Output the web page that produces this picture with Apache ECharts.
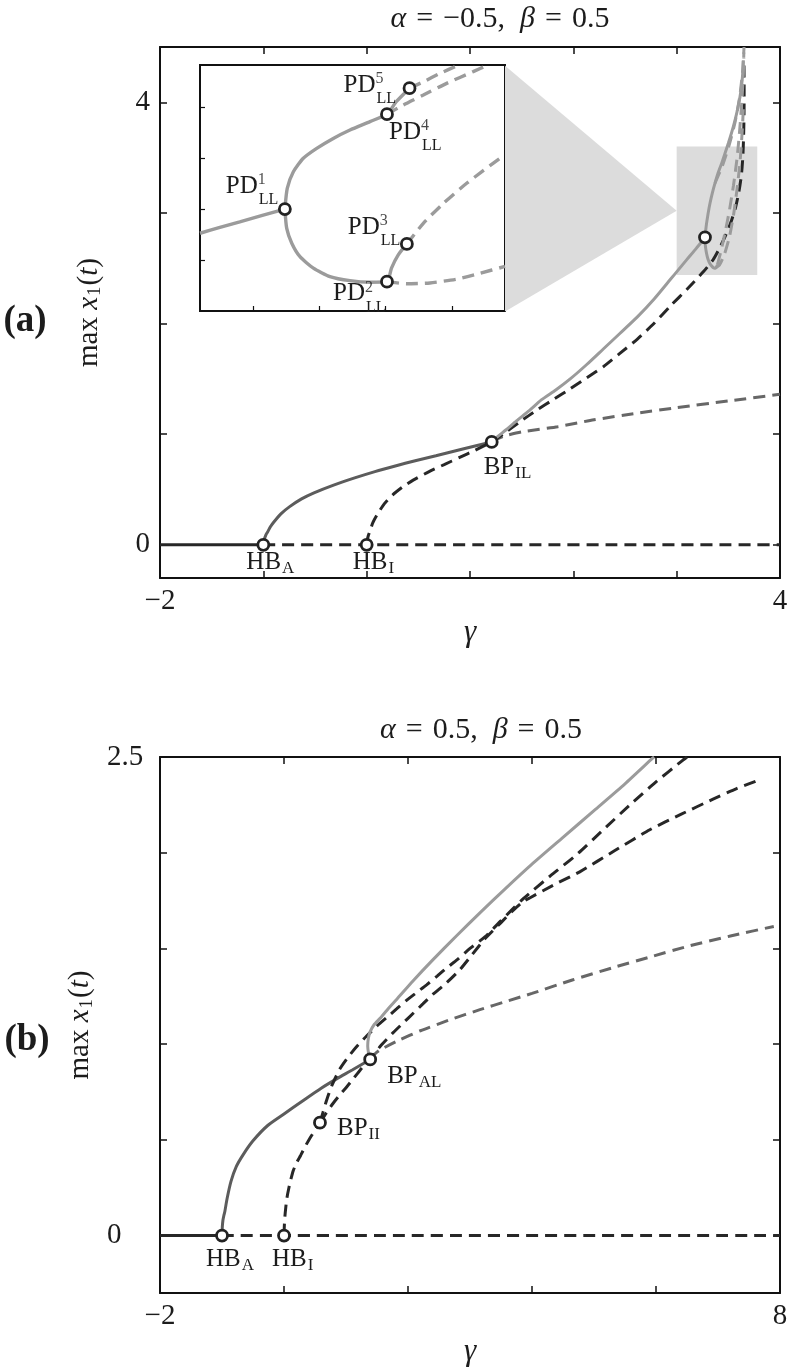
<!DOCTYPE html>
<html>
<head>
<meta charset="utf-8">
<script src="https://cdn.jsdelivr.net/npm/echarts@6/dist/echarts.min.js"></script>
<style>
html, body { margin: 0; padding: 0; background: #fff; }
#container { width: 796px; height: 1372px; }
</style>
</head>
<body>
<div id="container"></div>
<script>
// ---------- panel (a): alpha = -0.5, beta = 0.5 ----------
var aXTicks = [-2, -1, 0, 1, 2, 3, 4];
var aXLabels = [-2, 4];
var aYTicks = [0, 1, 2, 3, 4];
var aYLabels = [0, 4];

var aEqStable = [[-2, 0], [-1, 0]];
var aEqUnstable = [[-1, 0], [4, 0]];
var aAStable = [[-1, 0], [-0.99, 0.05], [-0.975, 0.09], [-0.96, 0.114], [-0.93, 0.165], [-0.9, 0.204], [-0.83, 0.28], [-0.745, 0.345], [-0.63, 0.415], [-0.51, 0.47], [-0.32, 0.54], [-0.116, 0.605], [0.08, 0.662], [0.277, 0.713], [0.47, 0.76], [0.67, 0.805], [0.94, 0.868], [1.21, 0.93]];
var aAUnstable = [[1.21, 0.93], [1.27, 0.96], [1.33, 0.983], [1.5, 1.02], [1.85, 1.068], [2.2, 1.13], [2.62, 1.19], [3.0, 1.24], [3.5, 1.3], [4.0, 1.36]];
var aIUnstable = [[0, 0], [0.005, 0.04], [0.015, 0.08], [0.03, 0.12], [0.06, 0.2], [0.1, 0.27], [0.17, 0.37], [0.25, 0.45], [0.35, 0.525], [0.45, 0.585], [0.6, 0.66], [0.75, 0.725], [0.9, 0.79], [1.05, 0.855], [1.21, 0.93], [1.32, 1.0], [1.48, 1.11], [1.65, 1.22], [1.81, 1.315], [1.97, 1.41], [2.13, 1.51], [2.29, 1.61], [2.45, 1.73], [2.62, 1.86], [2.78, 2.0], [2.94, 2.16], [3.1, 2.31], [3.26, 2.47], [3.355, 2.58], [3.42, 2.69], [3.48, 2.81], [3.53, 2.93], [3.57, 3.05], [3.6, 3.18], [3.625, 3.33], [3.64, 3.5], [3.648, 3.7], [3.652, 3.9], [3.653, 4.1], [3.652, 4.3], [3.65, 4.4]];
var aLStable = [[1.21, 0.93], [1.27, 0.98], [1.35, 1.04], [1.45, 1.12], [1.57, 1.21], [1.69, 1.31], [1.83, 1.4], [1.97, 1.5], [2.13, 1.63], [2.29, 1.77], [2.45, 1.91], [2.62, 2.06], [2.78, 2.22], [2.94, 2.4], [3.02, 2.49], [3.1, 2.58], [3.19, 2.68], [3.274, 2.78], [3.282, 2.85], [3.29, 2.91], [3.305, 3.0], [3.323, 3.09], [3.345, 3.18], [3.371, 3.27], [3.4, 3.36], [3.436, 3.45], [3.468, 3.54], [3.5, 3.63], [3.533, 3.73], [3.565, 3.84], [3.59, 3.94], [3.613, 4.05], [3.628, 4.15], [3.639, 4.26], [3.645, 4.38]];
var aLStableLow = [[3.274, 2.78], [3.276, 2.72], [3.284, 2.66], [3.295, 2.61], [3.306, 2.575], [3.32, 2.545], [3.339, 2.52], [3.355, 2.505], [3.371, 2.5], [3.385, 2.51], [3.394, 2.53]];
var aLUnstable1 = [[3.394, 2.53], [3.43, 2.66], [3.47, 2.83], [3.51, 3.02], [3.55, 3.25], [3.585, 3.5], [3.61, 3.75], [3.63, 4.0], [3.645, 4.25], [3.65, 4.45]];
var aLUnstable2 = [[3.371, 2.5], [3.415, 2.53], [3.46, 2.62], [3.51, 2.78], [3.55, 2.98], [3.585, 3.22], [3.615, 3.48], [3.635, 3.75], [3.648, 4.0]];
var aLUnstable3 = [[3.371, 3.27], [3.44, 3.42], [3.51, 3.62], [3.565, 3.82], [3.61, 4.05], [3.64, 4.3], [3.652, 4.5]];

var aMarks = [[-1, 0], [0, 0], [1.21, 0.93], [3.274, 2.78]];
var aMarkNames = ['HB', 'HB', 'BP', ''];
var aMarkSubs = ['A', 'I', 'IL', ''];

// zoom window and the wedge joining it to the inset
var aZoomBox = [[3.0, 2.44], [3.78, 3.6]];
var aZoomWedge = [[1.339, 4.33], [3.0, 3.02], [1.339, 2.11]];

// ---------- inset of panel (a) ----------
var inXTicks = [3.25, 3.30, 3.35, 3.40];
var inYTicks = [2.58, 2.78, 2.98, 3.18];
var inLIn = [[3.21, 2.685], [3.225, 2.708], [3.24, 2.73], [3.257, 2.755], [3.274, 2.78]];
var inLUpper = [[3.274, 2.78], [3.2758, 2.861], [3.2804, 2.926], [3.2879, 2.979], [3.298, 3.018], [3.3105, 3.057], [3.3231, 3.09], [3.3382, 3.123], [3.351, 3.152], [3.358, 3.201], [3.368, 3.254]];
var inLLower = [[3.274, 2.78], [3.2754, 2.704], [3.2792, 2.646], [3.2854, 2.593], [3.2955, 2.548], [3.308, 2.515], [3.3231, 2.499], [3.3382, 2.493], [3.351, 2.495], [3.3544, 2.548], [3.3595, 2.6], [3.366, 2.643]];
var inDash5 = [[3.368, 3.254], [3.3784, 3.279], [3.391, 3.312], [3.4035, 3.341], [3.406, 3.345]];
var inDash4 = [[3.351, 3.152], [3.3633, 3.188], [3.3784, 3.227], [3.396, 3.273], [3.416, 3.319], [3.427, 3.345]];
var inDash3 = [[3.366, 2.643], [3.3784, 2.724], [3.3935, 2.802], [3.4111, 2.881], [3.4362, 2.979], [3.44, 2.99]];
var inDash2 = [[3.351, 2.495], [3.3658, 2.487], [3.3834, 2.49], [3.4035, 2.505], [3.4211, 2.528], [3.44, 2.555]];
var inMarks = [[3.274, 2.78], [3.351, 2.495], [3.366, 2.643], [3.351, 3.152], [3.368, 3.254]];
var inMarkSups = ['1', '2', '3', '4', '5'];

// ---------- panel (b): alpha = 0.5, beta = 0.5 ----------
var bXTicks = [-2, 0, 2, 4, 6, 8];
var bXLabels = [-2, 8];
var bYTicks = [0, 0.5, 1, 1.5, 2, 2.5];
var bYLabels = [0, 2.5];

var bEqStable = [[-2, 0], [-1, 0]];
var bEqUnstable = [[-1, 0], [8, 0]];
var bAStable = [[-1, 0], [-0.995, 0.045], [-0.985, 0.08], [-0.97, 0.105], [-0.954, 0.126], [-0.92, 0.19], [-0.855, 0.283], [-0.77, 0.36], [-0.658, 0.423], [-0.5, 0.495], [-0.263, 0.575], [0.0, 0.635], [0.329, 0.71], [0.6, 0.77], [0.855, 0.82], [1.1, 0.865], [1.39, 0.92]];
var bAUnstable = [[1.39, 0.92], [1.47, 0.95], [1.55, 0.97], [1.85, 1.02], [2.2, 1.07], [2.7, 1.13], [3.16, 1.18], [3.6, 1.225], [4.0, 1.265], [4.65, 1.335], [5.31, 1.4], [5.9, 1.455], [6.5, 1.51], [7.2, 1.565], [7.9, 1.615]];
var bIUnstable = [[0, 0], [0.004, 0.04], [0.01, 0.08], [0.02, 0.12], [0.04, 0.18], [0.06, 0.22], [0.1, 0.28], [0.15, 0.34], [0.21, 0.385], [0.27, 0.42], [0.35, 0.47], [0.42, 0.51], [0.5, 0.55], [0.58, 0.59]];
var bPUnstable = [[0.58, 0.59], [0.63, 0.645], [0.69, 0.71], [0.78, 0.79], [0.9, 0.87], [1.04, 0.935], [1.18, 0.99], [1.34, 1.045], [1.5, 1.095], [1.66, 1.14], [1.82, 1.185], [1.98, 1.23], [2.14, 1.27], [2.3, 1.31], [2.47, 1.355], [2.63, 1.4], [2.79, 1.44], [3.0, 1.5], [3.24, 1.56], [3.5, 1.645], [3.86, 1.76], [4.3, 1.88], [4.72, 1.99], [5.15, 2.12], [5.58, 2.25], [6.0, 2.37], [6.42, 2.48], [6.5, 2.5]];
var bQUnstable = [[0.58, 0.59], [0.68, 0.64], [0.79, 0.69], [0.9, 0.735], [1.02, 0.78], [1.12, 0.82], [1.23, 0.865], [1.39, 0.925], [1.57, 0.995], [1.76, 1.06], [1.92, 1.11], [2.08, 1.16], [2.24, 1.21], [2.4, 1.26], [2.62, 1.32], [2.84, 1.39], [3.04, 1.47], [3.24, 1.55], [3.5, 1.635], [3.7, 1.7], [3.86, 1.745], [3.97, 1.765], [4.37, 1.835], [4.77, 1.9], [5.33, 2.01], [5.9, 2.12], [6.4, 2.2], [6.92, 2.28], [7.3, 2.335], [7.71, 2.385]];
var bLStable = [[1.39, 0.92], [1.365, 0.95], [1.35, 0.99], [1.36, 1.03], [1.39, 1.065], [1.45, 1.1], [1.55, 1.135], [1.68, 1.185], [1.82, 1.235], [2.08, 1.33], [2.4, 1.44], [2.78, 1.565], [3.16, 1.686], [3.58, 1.815], [4.0, 1.94], [4.5, 2.08], [5.0, 2.22], [5.5, 2.36], [5.95, 2.495], [5.97, 2.5]];

var bMarks = [[-1, 0], [0, 0], [0.58, 0.59], [1.39, 0.92]];
var bMarkNames = ['HB', 'HB', 'BP', 'BP'];
var bMarkSubs = ['A', 'I', 'II', 'AL'];

// label placement (pixels from the marker)
var aLabelOffsets = [[-17, 18], [-14, 18], [-8, 26], [0, 0]];
var bLabelOffsets = [[-16, 24], [-12, 24], [17, 6], [17, 17]];
var inLabelOffsets = [[-59, -23], [-54, 12], [-59, -17], [2, 18], [-66, -3]];

var FONT = '"Liberation Serif", "DejaVu Serif", serif';
var INK = '#1c1c1c';
var DARK = '#272727', MID = '#5c5c5c', LIGHT = '#9b9b9b', SHADE = '#dcdcdc';
var DASH = [12, 7];

var RICH = {
    m: { fontFamily: FONT, fontSize: 25, color: INK, lineHeight: 30, verticalAlign: 'middle' },
    s: { fontFamily: FONT, fontSize: 17, color: INK, padding: [12, 0, 0, 1], verticalAlign: 'middle' },
    sl: { fontFamily: FONT, fontSize: 16, color: INK, padding: [28, 0, 0, 1], verticalAlign: 'middle' },
    p: { fontFamily: FONT, fontSize: 16, color: INK, verticalAlign: 'middle' }
};

function fmtNum(v) {
    return v < 0 ? '\u2212' + (-v) : String(v);
}

function frame(gridIndex, xr, yr, xTicks, yTicks, xLabels, yLabels, xNameGap, yLabelAlign, yLabelMargin) {
    var tickStyle = { color: '#111', width: 1.5 };
    var lineStyle = { color: '#111', width: 2 };
    var xs = [{
        type: 'value', gridIndex: gridIndex, position: 'bottom', min: xr[0], max: xr[1],
        axisLine: { show: true, onZero: false, lineStyle: lineStyle },
        axisTick: { show: true, inside: true, length: 7, customValues: xTicks, lineStyle: tickStyle },
        axisLabel: { show: true, customValues: xLabels, margin: 9, formatter: fmtNum, color: INK, fontSize: 29, fontFamily: FONT },
        splitLine: { show: false },
        name: '\u03b3', nameLocation: 'middle', nameGap: xNameGap,
        nameTextStyle: { fontFamily: FONT, fontSize: 31, fontStyle: 'italic', color: INK }
    }, {
        type: 'value', gridIndex: gridIndex, position: 'top', min: xr[0], max: xr[1],
        axisLine: { show: true, onZero: false, lineStyle: lineStyle },
        axisTick: { show: true, inside: true, length: 7, customValues: xTicks, lineStyle: tickStyle },
        axisLabel: { show: false }, splitLine: { show: false }
    }];
    var ys = [{
        type: 'value', gridIndex: gridIndex, position: 'left', min: yr[0], max: yr[1],
        axisLine: { show: true, onZero: false, lineStyle: lineStyle },
        axisTick: { show: true, inside: true, length: 7, customValues: yTicks, lineStyle: tickStyle },
        axisLabel: { show: true, customValues: yLabels, margin: yLabelMargin, align: yLabelAlign, formatter: fmtNum, color: INK, fontSize: 29, fontFamily: FONT },
        splitLine: { show: false },
        name: '{r|max }{i|x}{s|1}{r|(}{i|t}{r|)}', nameLocation: 'middle', nameGap: 54, nameRotate: 90,
        nameTextStyle: {
            fontFamily: FONT, fontSize: 29, color: INK,
            rich: {
                r: { fontFamily: FONT, fontSize: 29, color: INK, lineHeight: 34, verticalAlign: 'middle' },
                i: { fontFamily: FONT, fontSize: 29, fontStyle: 'italic', color: INK, lineHeight: 34, verticalAlign: 'middle' },
                s: { fontFamily: FONT, fontSize: 19, color: INK, padding: [13, 1, 0, 1], verticalAlign: 'middle' }
            }
        }
    }, {
        type: 'value', gridIndex: gridIndex, position: 'right', min: yr[0], max: yr[1],
        axisLine: { show: true, onZero: false, lineStyle: lineStyle },
        axisTick: { show: true, inside: true, length: 7, customValues: yTicks, lineStyle: tickStyle },
        axisLabel: { show: false }, splitLine: { show: false }
    }];
    return { x: xs, y: ys };
}

function curve(data, xi, yi, color, dashed, width) {
    return {
        type: 'line', xAxisIndex: xi, yAxisIndex: yi, data: data,
        symbol: 'none', showSymbol: false, smooth: 0.2, silent: true, z: 3,
        lineStyle: { color: color, width: width || 3, type: dashed ? DASH : 'solid', cap: 'butt' }
    };
}

function markers(xi, yi, pts, names, subs, offsets, subStyle) {
    return {
        type: 'scatter', xAxisIndex: xi, yAxisIndex: yi, z: 10, silent: true,
        symbol: 'circle', symbolSize: 11,
        itemStyle: { color: '#fff', borderColor: '#222', borderWidth: 2.8, opacity: 1 },
        label: { show: true, position: 'inside', align: 'left', verticalAlign: 'middle', rich: RICH },
        data: pts.map(function (p, i) {
            return {
                value: p,
                label: {
                    show: !!names[i],
                    formatter: names[i] ? '{m|' + names[i] + '}{' + subStyle + '|' + subs[i] + '}' : '',
                    offset: offsets[i]
                }
            };
        })
    };
}

var fa = frame(0, [-2, 4], [-0.3, 4.5], aXTicks, aYTicks, aXLabels, aYLabels, 32, 'right', 10);
var fb = frame(2, [-2, 8], [-0.3, 2.5], bXTicks, bYTicks, bXLabels, bYLabels, 43, 'left', 53);

var inAxisX = {
    type: 'value', gridIndex: 1, min: 3.21, max: 3.44,
    axisLine: { show: false },
    axisTick: { show: true, inside: true, length: 5, customValues: inXTicks, lineStyle: { color: '#111', width: 1.2 } },
    axisLabel: { show: false }, splitLine: { show: false }
};
var inAxisY = {
    type: 'value', gridIndex: 1, min: 2.38, max: 3.345,
    axisLine: { show: false },
    axisTick: { show: true, inside: true, length: 5, customValues: inYTicks, lineStyle: { color: '#111', width: 1.2 } },
    axisLabel: { show: false }, splitLine: { show: false }
};

// axis index map: x 0,1 = (a); 2 = inset; 3,4 = (b)
var xAxes = [fa.x[0], fa.x[1], inAxisX, fb.x[0], fb.x[1]];
var yAxes = [fa.y[0], fa.y[1], inAxisY, fb.y[0], fb.y[1]];

var series = [
    {
        type: 'custom', xAxisIndex: 0, yAxisIndex: 0, z: 1, silent: true,
        data: [[0, 0]],
        renderItem: function (params, api) {
            var w = aZoomWedge.map(function (p) { return api.coord(p); });
            var b0 = api.coord(aZoomBox[0]);
            var b1 = api.coord(aZoomBox[1]);
            return {
                type: 'group',
                children: [
                    { type: 'polygon', shape: { points: w }, style: { fill: SHADE } },
                    { type: 'rect', shape: { x: b0[0], y: b1[1], width: b1[0] - b0[0], height: b0[1] - b1[1] }, style: { fill: SHADE } }
                ]
            };
        }
    },
    // panel (a)
    curve(aEqStable, 0, 0, DARK, false),
    curve(aEqUnstable, 0, 0, DARK, true),
    curve(aAStable, 0, 0, MID, false),
    curve(aAUnstable, 0, 0, '#676767', true),
    curve(aIUnstable, 0, 0, DARK, true),
    curve(aLStable, 0, 0, LIGHT, false),
    curve(aLStableLow, 0, 0, LIGHT, false),
    curve(aLUnstable1, 0, 0, LIGHT, true),
    curve(aLUnstable2, 0, 0, LIGHT, true),
    curve(aLUnstable3, 0, 0, LIGHT, true),
    markers(0, 0, aMarks, aMarkNames, aMarkSubs, aLabelOffsets, 's'),
    // inset
    curve(inLIn, 2, 2, LIGHT, false, 3.4),
    curve(inLUpper, 2, 2, LIGHT, false, 3.4),
    curve(inLLower, 2, 2, LIGHT, false, 3.4),
    curve(inDash5, 2, 2, LIGHT, true, 3.4),
    curve(inDash4, 2, 2, LIGHT, true, 3.4),
    curve(inDash3, 2, 2, LIGHT, true, 3.4),
    curve(inDash2, 2, 2, LIGHT, true, 3.4),
    markers(2, 2, inMarks, inMarks.map(function () { return 'PD'; }), inMarks.map(function () { return 'LL'; }), inLabelOffsets, 'sl'),
    {
        type: 'scatter', xAxisIndex: 2, yAxisIndex: 2, z: 11, silent: true,
        symbol: 'circle', symbolSize: 1, itemStyle: { color: 'rgba(0,0,0,0)' },
        label: { show: true, position: 'inside', align: 'left', verticalAlign: 'middle', rich: RICH },
        data: inMarks.map(function (p, i) {
            return {
                value: p,
                label: { formatter: '{p|' + inMarkSups[i] + '}', offset: [inLabelOffsets[i][0] + 32, inLabelOffsets[i][1] - 6] }
            };
        })
    },
    // panel (b)
    curve(bEqStable, 3, 3, DARK, false),
    curve(bEqUnstable, 3, 3, DARK, true),
    curve(bAStable, 3, 3, MID, false),
    curve(bAUnstable, 3, 3, '#676767', true),
    curve(bIUnstable, 3, 3, DARK, true),
    curve(bPUnstable, 3, 3, DARK, true),
    curve(bQUnstable, 3, 3, DARK, true),
    curve(bLStable, 3, 3, LIGHT, false),
    markers(3, 3, bMarks, bMarkNames, bMarkSubs, bLabelOffsets, 's')
];

function textEl(x, y, text, size, weight, rich) {
    return {
        type: 'text', x: x, y: y, z: 20, silent: true,
        style: {
            text: text, fill: INK, font: weight + ' ' + size + 'px ' + FONT,
            align: 'center', verticalAlign: 'middle', textAlign: 'center', textVerticalAlign: 'middle',
            rich: rich
        }
    };
}

var titleRich = {
    n: { fontFamily: FONT, fontSize: 30, fill: INK },
    g: { fontFamily: FONT, fontSize: 30, fontStyle: 'italic', fill: INK }
};

var dom = document.getElementById("container");
var myChart = echarts.init(dom);
var option = {
    backgroundColor: '#fff',
    animation: false,
    grid: [
        { left: 160, top: 47, width: 620, height: 531, outerBoundsMode: 'none' },
        { left: 200, top: 65, width: 305, height: 246, show: true, backgroundColor: '#fff', borderColor: '#111', borderWidth: 2, outerBoundsMode: 'none' },
        { left: 160, top: 757, width: 620, height: 536, outerBoundsMode: 'none' }
    ],
    xAxis: xAxes,
    yAxis: yAxes,
    graphic: [
        textEl(500, 19, '{g|\u03b1}{n|\u2004=\u2004\u22120.5,\u2002}{g|\u03b2}{n|\u2004=\u20040.5}', 30, 'normal', titleRich),
        textEl(481, 730, '{g|\u03b1}{n|\u2004=\u20040.5,\u2002}{g|\u03b2}{n|\u2004=\u20040.5}', 30, 'normal', titleRich),
        textEl(25, 321, '(a)', 37, 'bold'),
        textEl(27, 1040, '(b)', 37, 'bold')
    ],
    series: series
};
myChart.setOption(option, true);
</script>
</body>
</html>
